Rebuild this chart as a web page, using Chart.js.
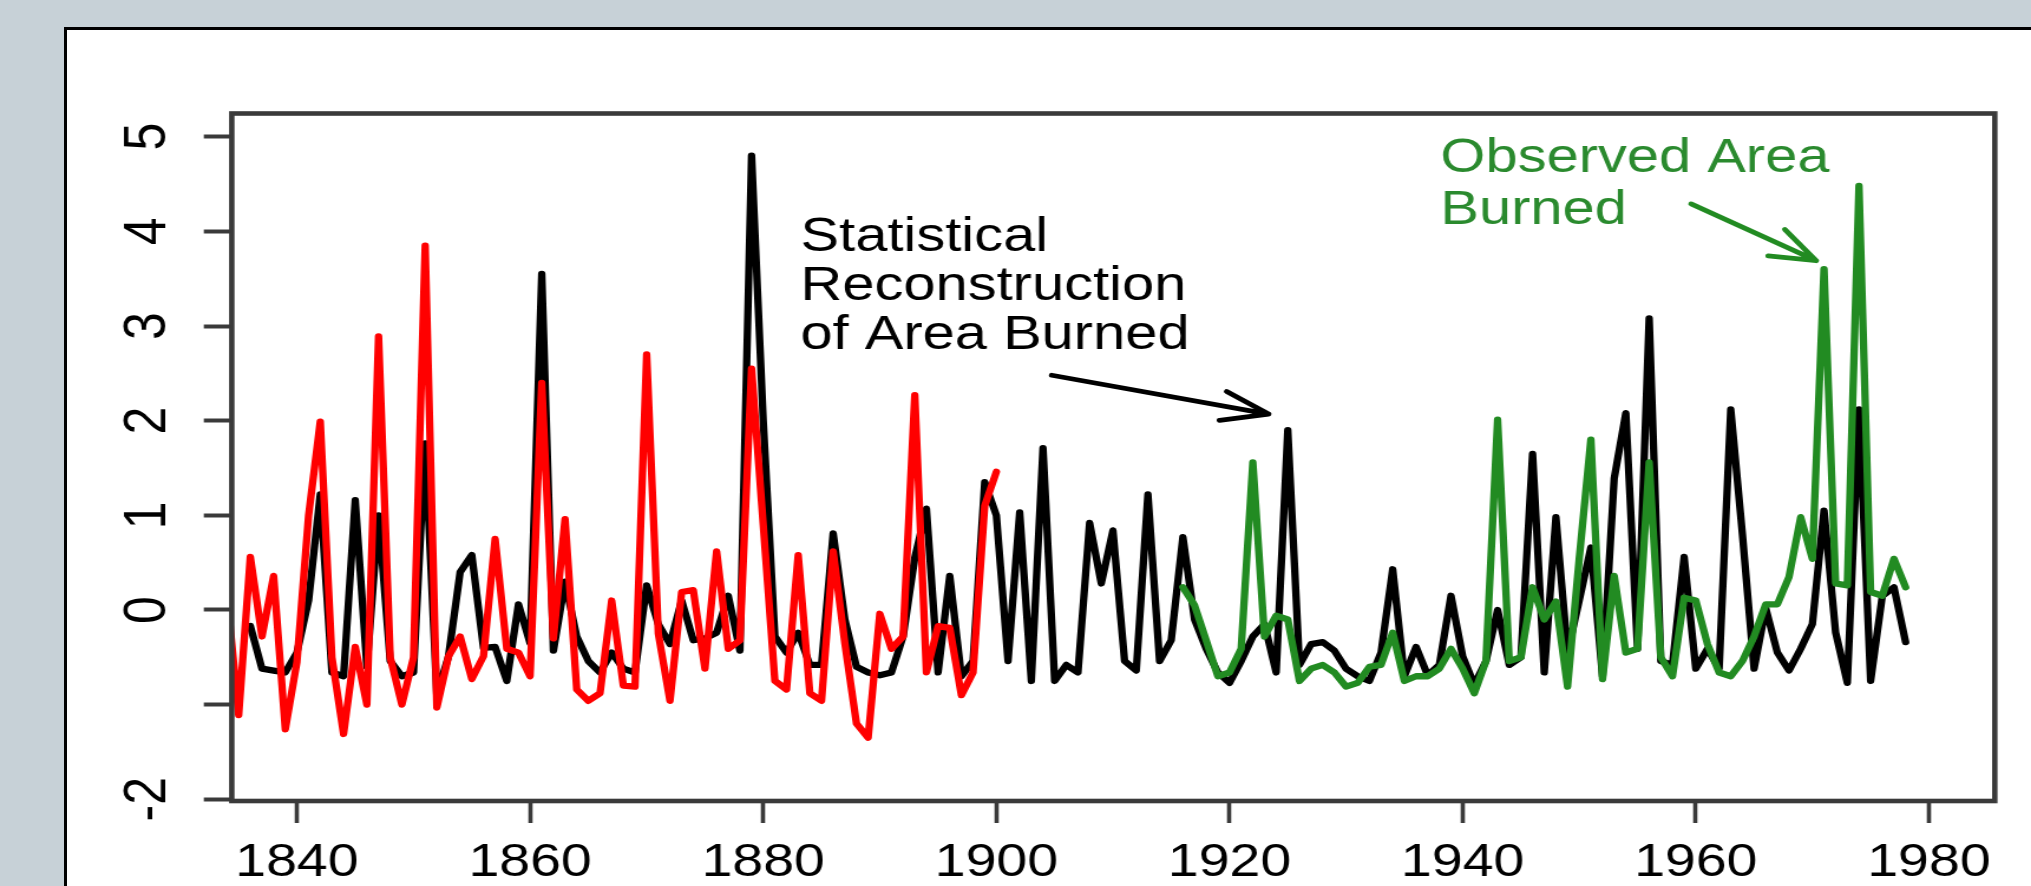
<!DOCTYPE html>
<html>
<head>
<meta charset="utf-8">
<script src="https://cdn.jsdelivr.net/npm/chart.js@4.4.1/dist/chart.umd.min.js"></script>
<style>
html,body{margin:0;padding:0;width:2031px;height:886px;overflow:hidden;background:#c7d1d7;}
#panel{position:absolute;left:64px;top:27px;width:2100px;height:1000px;background:#ffffff;border-left:3px solid #000;border-top:3px solid #000;}
#c{position:absolute;left:0;top:0;transform-origin:0 0;transform:scaleX(1.18013);}
</style>
</head>
<body>
<div id="panel"></div>
<canvas id="c" width="1721" height="886"></canvas>
<script>
// ---------------- data ----------------
// Statistical reconstruction of area burned (black), one value per year from 1836
const reconFirstYear = 1836;
const reconValues = [
  -0.17, -0.62, -0.64, -0.66, -0.45, 0.10, 1.22, -0.66, -0.70, 1.16,
  -0.60, 1.00, -0.54, -0.70, -0.66, 1.76, -0.90, -0.49, 0.40, 0.58,
  -0.40, -0.39, -0.75, 0.06, -0.35, 3.55, -0.43, 0.30, -0.28, -0.54,
  -0.66, -0.45, -0.62, -0.66, 0.26, -0.15, -0.36, 0.10, -0.32, -0.30,
  -0.24, 0.15, -0.43, 4.80, 2.00, -0.28, -0.45, -0.24, -0.58, -0.58,
  0.81, -0.10, -0.60, -0.66, -0.69, -0.66, -0.28, 0.55, 1.07, -0.66,
  0.36, -0.70, -0.54, 1.35, 1.00, -0.54, 1.03, -0.75, 1.71, -0.75,
  -0.58, -0.66, 0.92, 0.28, 0.84, -0.54, -0.64, 1.22, -0.54, -0.32,
  0.77, -0.10, -0.41, -0.66, -0.77, -0.54, -0.28, -0.15, -0.66, 1.90,
  -0.58, -0.36, -0.34, -0.43, -0.62, -0.70, -0.75, -0.45, 0.43, -0.70,
  -0.39, -0.69, -0.58, 0.15, -0.49, -0.79, -0.54, 0.00, -0.58, -0.50,
  1.65, -0.66, 0.98, -0.45, 0.10, 0.66, -0.70, 1.39, 2.08, -0.41,
  3.08, -0.54, -0.58, 0.56, -0.62, -0.41, -0.62, 2.12, 0.80, -0.62,
  0.02, -0.45, -0.64, -0.41, -0.15, 1.05, -0.24, -0.77, 2.12, -0.75,
  0.15, 0.24, -0.34
];
// Red series, one value per year from 1834
const redFirstYear = 1834;
const redValues = [
  0.17, -1.11, 0.56, -0.28, 0.36, -1.26, -0.55, 1.00, 1.99, -0.50,
  -1.31, -0.39, -1.00, 2.89, -0.50, -1.00, -0.50, 3.85, -1.03, -0.49,
  -0.28, -0.73, -0.49, 0.75, -0.41, -0.45, -0.70, 2.40, -0.30, 0.96,
  -0.84, -0.96, -0.88, 0.10, -0.80, -0.81, 2.70, -0.25, -0.96, 0.19,
  0.21, -0.62, 0.62, -0.41, -0.32, 2.55, 0.90, -0.75, -0.84, 0.58,
  -0.88, -0.96, 0.62, -0.35, -1.20, -1.35, -0.04, -0.41, -0.28, 2.27,
  -0.66, -0.17, -0.19, -0.90, -0.66, 1.10, 1.46
];
// Observed area burned (green), one value per year from 1916
const obsFirstYear = 1916;
const obsValues = [
  0.24, 0.05, -0.32, -0.70, -0.66, -0.41, 1.56, -0.28, -0.06, -0.10,
  -0.75, -0.62, -0.58, -0.66, -0.81, -0.77, -0.60, -0.58, -0.24, -0.75,
  -0.70, -0.70, -0.62, -0.41, -0.62, -0.88, -0.54, 2.01, -0.54, -0.50,
  0.24, -0.10, 0.09, -0.81, 0.54, 1.80, -0.73, 0.36, -0.45, -0.41,
  1.56, -0.50, -0.70, 0.13, 0.10, -0.36, -0.66, -0.70, -0.54, -0.28,
  0.06, 0.06, 0.35, 0.98, 0.54, 3.60, 0.28, 0.26, 4.48, 0.19,
  0.15, 0.54, 0.24
];
const xTickValues = [1840, 1860, 1880, 1900, 1920, 1940, 1960, 1980];
const xTickLabels = ['1840', '1860', '1880', '1900', '1920', '1940', '1960', '1980'];
const yTickValues = [-2, -1, 0, 1, 2, 3, 4, 5];
const yTickLabels = ['-2', '', '0', '1', '2', '3', '4', '5'];

// ---------------- annotations (text, placed in data coordinates) ----------------
const notes = [
  { lines: ['Statistical', 'Reconstruction', 'of Area Burned'], x: 1883.2, y: 3.79, color: '#000000', size: 49, gap: 49 },
  { lines: ['Observed Area', 'Burned'], x: 1938.1, y: 4.627, color: '#2a8a2e', size: 49, gap: 52 }
];
const arrows = [
  { from: [1904.75, 2.48], to: [1923.35, 2.07], color: '#000000', head: 42, angle: 20.5 },
  { from: [1959.6, 4.29], to: [1970.33, 3.69], color: '#228B22', head: 41, angle: 21.5 }
];

function toPoints(first, vals) {
  return vals.map((v, i) => ({ x: first + i, y: v }));
}

const FONT = "'Liberation Sans', Arial, Helvetica, sans-serif";
Chart.defaults.font.family = FONT;

const framePlugin = {
  id: 'frameAndNotes',
  afterDatasetsDraw(chart) {
    const { ctx, chartArea: a, scales: { x, y } } = chart;
    ctx.save();
    ctx.strokeStyle = '#3a3a3a';
    ctx.lineWidth = 4.6;
    ctx.strokeRect(a.left, a.top, a.right - a.left, a.bottom - a.top);

    notes.forEach(n => {
      ctx.fillStyle = n.color;
      ctx.font = n.size + 'px ' + FONT;
      ctx.textAlign = 'left';
      ctx.textBaseline = 'alphabetic';
      const px = x.getPixelForValue(n.x), py = y.getPixelForValue(n.y);
      n.lines.forEach((t, i) => ctx.fillText(t, px, py + i * n.gap));
    });

    arrows.forEach(ar => {
      const x1 = x.getPixelForValue(ar.from[0]), y1 = y.getPixelForValue(ar.from[1]);
      const x2 = x.getPixelForValue(ar.to[0]), y2 = y.getPixelForValue(ar.to[1]);
      const ang = Math.atan2(y2 - y1, x2 - x1);
      const h = ar.angle * Math.PI / 180;
      ctx.strokeStyle = ar.color;
      ctx.lineWidth = 4.8;
      ctx.lineCap = 'round';
      ctx.lineJoin = 'round';
      ctx.beginPath();
      ctx.moveTo(x1, y1); ctx.lineTo(x2, y2);
      ctx.moveTo(x2 - ar.head * Math.cos(ang - h), y2 - ar.head * Math.sin(ang - h));
      ctx.lineTo(x2, y2);
      ctx.lineTo(x2 - ar.head * Math.cos(ang + h), y2 - ar.head * Math.sin(ang + h));
      ctx.stroke();
    });
    ctx.restore();
  }
};

const ctx = document.getElementById('c').getContext('2d');
new Chart(ctx, {
  type: 'line',
  data: {
    datasets: [
      { label: 'Statistical Reconstruction of Area Burned', data: toPoints(reconFirstYear, reconValues), borderColor: '#000000', order: 3 },
      { label: 'Reconstruction (early period)', data: toPoints(redFirstYear, redValues), borderColor: '#ff0000', order: 2 },
      { label: 'Observed Area Burned', data: toPoints(obsFirstYear, obsValues), borderColor: '#228B22', order: 1 }
    ]
  },
  options: {
    responsive: false,
    animation: false,
    devicePixelRatio: 1,
    events: [],
    layout: { padding: { left: 0, right: 30.7, top: 113.5, bottom: 0 } },
    elements: {
      line: { borderWidth: 6.3, tension: 0, borderJoinStyle: 'round', borderCapStyle: 'round', fill: false },
      point: { radius: 0, hoverRadius: 0 }
    },
    plugins: { legend: { display: false }, tooltip: { enabled: false } },
    scales: {
      x: {
        type: 'linear', min: 1834.41, max: 1985.65,
        afterFit(s) { s.height = 85; },
        afterBuildTicks(s) { s.ticks = xTickValues.map(v => ({ value: v })); },
        border: { display: false },
        grid: { display: true, drawOnChartArea: false, drawTicks: true, tickLength: 22, tickColor: '#3a3a3a', tickWidth: 3.6 },
        ticks: {
          autoSkip: false, maxRotation: 0, minRotation: 0, padding: 12, color: '#000000',
          font: { size: 47, family: FONT },
          callback(v) { const i = xTickValues.indexOf(v); return i >= 0 ? xTickLabels[i] : ''; }
        }
      },
      y: {
        type: 'linear', min: -2.018, max: 5.245,
        afterFit(s) { s.width = 196.4; },
        afterBuildTicks(s) { s.ticks = yTickValues.map(v => ({ value: v })); },
        border: { display: false },
        grid: { display: true, drawOnChartArea: false, drawTicks: true, tickLength: 23.7, tickColor: '#3a3a3a', tickWidth: 4 },
        ticks: {
          autoSkip: false, minRotation: 90, maxRotation: 90, crossAlign: 'center', padding: 24, color: '#000000',
          font: { size: 50, family: FONT },
          callback(v) { const i = yTickValues.indexOf(v); return i >= 0 ? yTickLabels[i] : ''; }
        }
      }
    }
  },
  plugins: [framePlugin]
});
</script>
</body>
</html>
